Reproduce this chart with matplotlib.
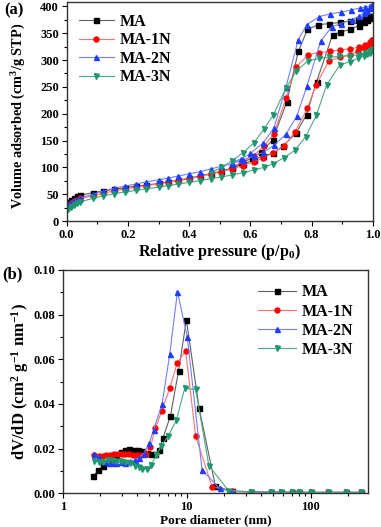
import matplotlib
matplotlib.use('Agg')
import matplotlib.pyplot as plt
from matplotlib.ticker import MultipleLocator, LogLocator, NullFormatter

#********************************
#   DATA
#********************************
# (a) N2 isotherms: adsorption and desorption branches
ma_p_ads = [0.005, 0.015, 0.025, 0.035, 0.045, 0.085, 0.12, 0.155, 0.19, 0.225, 0.26, 0.30, 0.33, 0.365,
            0.40, 0.435, 0.47, 0.505, 0.54, 0.575, 0.61, 0.64, 0.675, 0.707, 0.749, 0.783, 0.816, 0.868,
            0.892, 0.925, 0.953, 0.97, 0.98, 0.99, 0.997]
ma_v_ads = [35, 40, 43, 46, 48, 53, 56, 59, 62, 65, 67, 70, 73, 76, 80, 84, 88, 93, 99, 106, 113, 122, 126,
            140, 164, 198, 260, 347, 352, 357, 364, 370, 374, 378, 383]
ma_p_des = [0.997, 0.99, 0.975, 0.952, 0.925, 0.892, 0.857, 0.822, 0.786, 0.756, 0.718, 0.672, 0.636,
            0.605, 0.57, 0.54]
ma_v_des = [383, 381, 378, 375, 373, 370, 368, 366, 357, 316, 221, 151, 129, 117, 108, 101]

n1_p_ads = [0.005, 0.015, 0.025, 0.035, 0.045, 0.085, 0.12, 0.155, 0.19, 0.225, 0.26, 0.30, 0.33, 0.365,
            0.40, 0.435, 0.47, 0.505, 0.54, 0.575, 0.61, 0.64, 0.675, 0.71, 0.745, 0.786, 0.814, 0.857,
            0.893, 0.925, 0.95, 0.97, 0.98, 0.99, 0.997]
n1_v_ads = [28, 33, 37, 40, 42, 47, 52, 56, 60, 63, 66, 69, 72, 75, 79, 83, 87, 92, 97, 103, 110, 117, 127,
            140, 166, 210, 254, 299, 305, 310, 316, 322, 326, 330, 337]
n1_p_des = [0.997, 0.99, 0.975, 0.955, 0.926, 0.893, 0.859, 0.823, 0.789, 0.749, 0.716, 0.677, 0.644,
            0.61, 0.575, 0.54]
n1_v_des = [337, 333, 328, 324, 321, 319, 316, 314, 310, 287, 229, 163, 140, 122, 110, 100]

n2_p_ads = [0.005, 0.015, 0.025, 0.035, 0.045, 0.085, 0.12, 0.155, 0.19, 0.225, 0.26, 0.30, 0.33, 0.365,
            0.40, 0.435, 0.47, 0.505, 0.54, 0.575, 0.61, 0.642, 0.677, 0.716, 0.751, 0.784, 0.829, 0.865,
            0.895, 0.93, 0.955, 0.97, 0.98, 0.99, 0.997]
n2_v_ads = [30, 35, 38, 41, 43, 50, 56, 61, 65, 69, 73, 77, 80, 84, 88, 92, 97, 102, 107, 114, 121, 128, 141,
            162, 195, 251, 335, 362, 368, 375, 382, 388, 392, 397, 403]
n2_p_des = [0.997, 0.99, 0.975, 0.957, 0.927, 0.894, 0.86, 0.825, 0.784, 0.756, 0.716, 0.677, 0.642,
            0.6, 0.57, 0.54]
n2_v_des = [403, 401, 399, 397, 393, 389, 386, 381, 366, 338, 250, 174, 146, 126, 116, 109]

n3_p_ads = [0.005, 0.015, 0.025, 0.035, 0.045, 0.085, 0.12, 0.155, 0.19, 0.225, 0.26, 0.30, 0.33, 0.365,
            0.40, 0.435, 0.47, 0.505, 0.54, 0.575, 0.61, 0.645, 0.675, 0.71, 0.745, 0.78, 0.815, 0.849,
            0.892, 0.925, 0.95, 0.97, 0.98, 0.99, 0.997]
n3_v_ads = [22, 27, 30, 33, 36, 42, 47, 51, 54, 57, 60, 63, 66, 69, 72, 75, 79, 82, 86, 90, 95, 100, 107,
            118, 132, 157, 197, 254, 291, 297, 303, 308, 311, 314, 318]
n3_p_des = [0.997, 0.99, 0.975, 0.955, 0.925, 0.89, 0.857, 0.825, 0.789, 0.75, 0.716, 0.675, 0.645,
            0.61, 0.575, 0.54, 0.505, 0.47]
n3_v_des = [318, 316, 313, 310, 308, 307, 305, 303, 299, 280, 248, 198, 172, 145, 127, 112, 100, 90]

# (b) pore size distributions
ma_d = [1.76, 1.93, 2.12, 2.3, 2.5, 2.7, 2.95, 3.2, 3.45, 3.75, 4.05, 4.4, 4.8, 5.2, 5.6, 6.0, 6.45, 7.4,
        8.6, 9.94, 12.6, 17.0, 23, 33, 48, 58, 70, 81, 101, 137, 193, 254]
ma_dv = [0.0077, 0.0102, 0.0124, 0.014, 0.0155, 0.017, 0.0185, 0.0193, 0.0198, 0.0196, 0.0194, 0.0188,
         0.018, 0.0176, 0.0176, 0.0194, 0.0249, 0.0348, 0.0549, 0.0776, 0.0381, 0.0034, 0.0008, 0.0006,
         0.0005, 0.0005, 0.0004, 0.0004, 0.0004, 0.0004, 0.0004, 0.0004]
n1_d = [1.8, 1.95, 2.1, 2.25, 2.4, 2.6, 2.8, 3.0, 3.2, 3.45, 3.7, 4.0, 4.3, 4.7, 5.1, 5.6, 6.3, 7.3, 8.36,
        9.8, 11.8, 16.0, 23, 33, 48, 58, 70, 81, 101, 137, 193, 254]
n1_dv = [0.0172, 0.0168, 0.0168, 0.017, 0.0172, 0.0174, 0.0176, 0.0178, 0.0177, 0.0176, 0.0173, 0.0172,
         0.0173, 0.0178, 0.0209, 0.0291, 0.037, 0.047, 0.0582, 0.0639, 0.0257, 0.003, 0.0008, 0.0006,
         0.0005, 0.0005, 0.0004, 0.0004, 0.0004, 0.0004, 0.0004, 0.0004]
n2_d = [1.8, 1.95, 2.1, 2.3, 2.5, 2.7, 2.95, 3.2, 3.5, 3.8, 4.1, 4.5, 5.0, 5.4, 6.33, 7.3, 8.42, 10.1,
        13.3, 18.4, 23, 33, 48, 58, 70, 81, 101, 137, 193, 254]
n2_dv = [0.0175, 0.0162, 0.0145, 0.0136, 0.0136, 0.0137, 0.0139, 0.0136, 0.0143, 0.015, 0.0158, 0.0178,
         0.0226, 0.0283, 0.040, 0.0624, 0.0903, 0.0701, 0.0104, 0.0022, 0.001, 0.0007, 0.0005, 0.0005,
         0.0004, 0.0004, 0.0004, 0.0004, 0.0004, 0.0004]
n3_d = [1.8, 1.95, 2.1, 2.3, 2.5, 2.7, 2.95, 3.2, 3.5, 3.8, 4.1, 4.4, 4.8, 5.2, 5.7, 6.25, 7.1, 8.26, 9.64,
        11.8, 15.1, 21.7, 33, 48, 58, 70, 81, 101, 137, 193, 254]
n3_dv = [0.0143, 0.0141, 0.0142, 0.0147, 0.0148, 0.0146, 0.0143, 0.014, 0.0135, 0.0122, 0.0118, 0.011,
         0.011, 0.0128, 0.0172, 0.0213, 0.0257, 0.0328, 0.047, 0.0465, 0.0124, 0.0012, 0.0006, 0.0005,
         0.0005, 0.0004, 0.0004, 0.0004, 0.0004, 0.0004, 0.0004]

names = ['MA', 'MA-1N', 'MA-2N', 'MA-3N']
markers = ['s', 'o', '^', 'v']
mcolors = ['#000000', '#ff0000', '#1f3cff', '#1e9670']
lcolors = ['#606060', '#ff7070', '#7080ff', '#50a888']

#********************************
#   STYLE
#********************************
plt.rcParams['font.family'] = ['Liberation Serif', 'DejaVu Serif']
plt.rcParams['font.weight'] = 'bold'
plt.rcParams['axes.labelweight'] = 'bold'
plt.rcParams['mathtext.fontset'] = 'custom'
plt.rcParams['mathtext.rm'] = 'Liberation Serif:bold'
plt.rcParams['mathtext.bf'] = 'Liberation Serif:bold'
plt.rcParams['mathtext.default'] = 'bf'
plt.rcParams['axes.linewidth'] = 1.0


def style_axes(ax):
    ax.tick_params(which='both', direction='out', top=False, right=False, labelsize=9, width=0.8, pad=2)
    ax.tick_params(which='major', length=3.5)
    ax.tick_params(which='minor', length=2)
    for s in ax.spines.values():
        s.set_color('#333333')


fig = plt.figure(figsize=(3.81, 5.27), dpi=100)

#======================
#   (a) isotherms
#======================
axa = fig.add_axes([0.175, 0.5806, 0.804, 0.4154])
iso = [(ma_p_ads, ma_v_ads, ma_p_des, ma_v_des),
       (n1_p_ads, n1_v_ads, n1_p_des, n1_v_des),
       (n2_p_ads, n2_v_ads, n2_p_des, n2_v_des),
       (n3_p_ads, n3_v_ads, n3_p_des, n3_v_des)]
for i, (pa, va, pd, vd) in enumerate(iso):
    axa.plot(pa + pd, va + vd, '-', color=lcolors[i], lw=0.8, marker=markers[i], ms=3.6,
             mfc=mcolors[i], mec=mcolors[i], label=names[i])
axa.set_xlim(0, 1.0)
axa.set_ylim(0, 408)
axa.xaxis.set_major_locator(MultipleLocator(0.2))
axa.xaxis.set_minor_locator(MultipleLocator(0.1))
axa.yaxis.set_major_locator(MultipleLocator(50))
axa.yaxis.set_minor_locator(MultipleLocator(25))
axa.xaxis.set_major_formatter(matplotlib.ticker.FormatStrFormatter('%.1f'))
style_axes(axa)
axa.set_xlabel('Relative pressure (p/p$_0$)', fontsize=11.5, labelpad=1)
axa.set_ylabel('Volume adsorbed (cm$^3$/g STP)', fontsize=10.3, labelpad=2)
axa.yaxis.set_label_coords(-0.125, 0.48)
axa.legend(loc='upper left', bbox_to_anchor=(0.0, 1.0), frameon=False, fontsize=11.5,
           handlelength=2.2, handletextpad=0.35, labelspacing=0.15, borderaxespad=0.35)
fig.text(0.012, 0.972, '(a)', fontsize=12, fontweight='bold')

#======================
#   (b) pore size distribution
#======================
axb = fig.add_axes([0.1646, 0.064, 0.8014, 0.4237])
psd = [(ma_d, ma_dv), (n1_d, n1_dv), (n2_d, n2_dv), (n3_d, n3_dv)]
for i, (d, dv) in enumerate(psd):
    axb.plot(d, dv, '-', color=lcolors[i], lw=0.8, marker=markers[i], ms=3.6,
             mfc=mcolors[i], mec=mcolors[i], label=names[i])
axb.set_xscale('log')
axb.set_xlim(1, 290)
axb.set_ylim(0, 0.10)
axb.yaxis.set_major_locator(MultipleLocator(0.02))
axb.yaxis.set_minor_locator(MultipleLocator(0.01))
axb.yaxis.set_major_formatter(matplotlib.ticker.FormatStrFormatter('%.2f'))
axb.xaxis.set_major_formatter(matplotlib.ticker.FuncFormatter(lambda v, p: '%g' % v))
axb.xaxis.set_minor_locator(LogLocator(base=10, subs=range(2, 10)))
axb.xaxis.set_minor_formatter(NullFormatter())
style_axes(axb)
axb.set_xlabel('Pore diameter (nm)', fontsize=9.5, labelpad=1)
axb.set_ylabel('dV/dD (cm$^2$ g$^{-1}$ nm$^{-1}$)', fontsize=12, labelpad=2)
axb.legend(loc='upper right', frameon=False, fontsize=11.5, handlelength=2.4,
           handletextpad=0.35, labelspacing=0.2, borderaxespad=0.5)
fig.text(0.005, 0.472, '(b)', fontsize=12, fontweight='bold')

fig.savefig('out.png', dpi=100)
